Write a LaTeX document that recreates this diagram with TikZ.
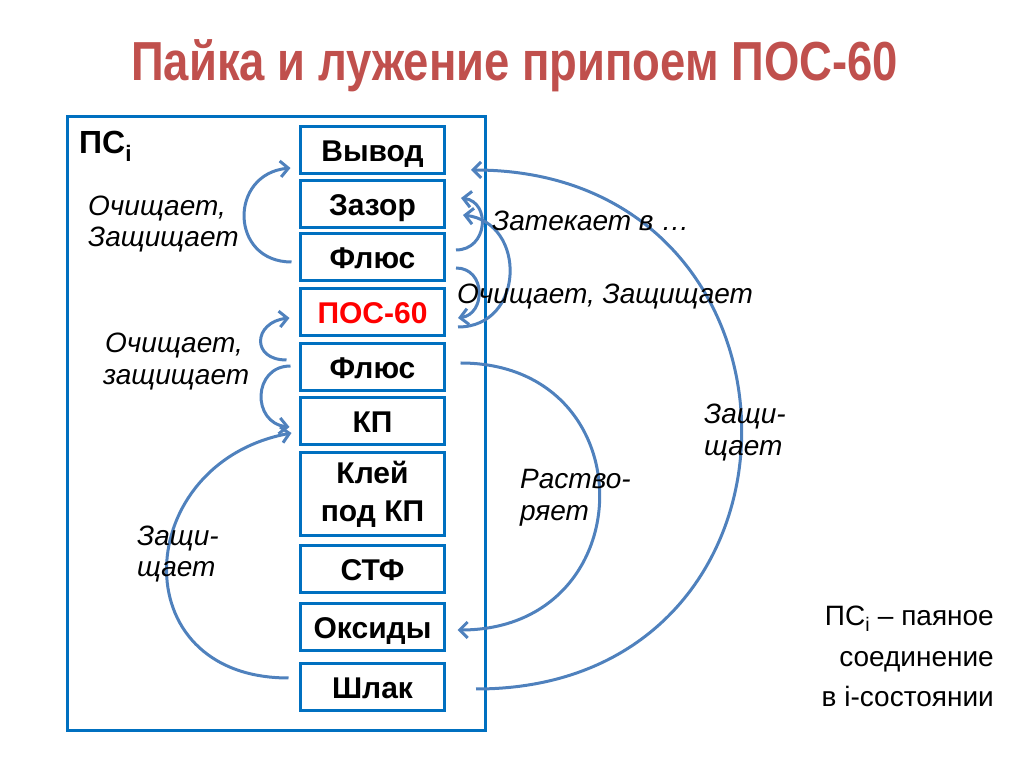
\documentclass[tikz,border=0pt]{standalone}
\usepackage{fontspec}
\setmainfont{Liberation Sans}
\usetikzlibrary{arrows.meta}
\definecolor{boxblue}{RGB}{0,112,192}
\definecolor{arrblue}{RGB}{79,129,189}
\definecolor{titlered}{RGB}{192,80,77}
\begin{document}
\begin{tikzpicture}[x=1pt,y=1pt,
  box/.style={draw=boxblue, line width=3pt, minimum width=144pt, minimum height=47pt, inner sep=0pt,
    font=\fontsize{30}{38}\selectfont\bfseries, text height=23pt, text depth=0pt},
  conn/.style={draw=arrblue, line width=3pt, -{Straight Barb[length=8pt,width=16pt]}},
  lbl/.style={font=\fontsize{28}{32}\selectfont\itshape, inner sep=0pt, anchor=base west},
  note/.style={font=\fontsize{28}{34}\selectfont, inner sep=0pt, anchor=base east},
]
\useasboundingbox (0,0) rectangle (1024,767);
\node[anchor=base west, inner sep=0pt, text=titlered, font=\fontsize{55}{60}\selectfont\bfseries] (title) at (131,686) {\scalebox{0.826}[1]{Пайка и лужение припоем ПОС-60}};
\node[draw=boxblue, line width=3pt, minimum width=418pt, minimum height=614pt, inner sep=0pt] (frame) at (276.5,343.5) {};
\node[anchor=base west, inner sep=0pt, font=\fontsize{32}{38}\selectfont\bfseries] (ps) at (79,613) {ПС\textsubscript{i}};

\node[box] (vyvod) at (372.5,617) {Вывод};
\node[box] (zazor) at (372.5,562.5) {Зазор};
\node[box] (flux1) at (372.5,509.5) {Флюс};
\node[box, text=red] (pos) at (372.5,455) {ПОС-60};
\node[box] (flux2) at (372.5,400) {Флюс};
\node[box] (kp) at (372.5,346) {КП};
\node[box, minimum height=83pt, text height=, text depth=, align=center] (klei) at (372.5,273) {Клей\\под КП};
\node[box] (stf) at (372.5,197.5) {СТФ};
\node[box] (oks) at (372.5,139.5) {Оксиды};
\node[box] (slak) at (372.5,79.5) {Шлак};

% left connectors
\draw[conn] ([xshift=-7.5pt,yshift=-4.5pt]flux1.west) .. controls +(-62,0) and +(-62,-6) .. ([xshift=-8.5pt,yshift=-18pt]vyvod.west);
\draw[conn] ([xshift=-12.5pt,yshift=7pt]flux2.west) .. controls +(-36,0) and +(-36,-4) .. ([xshift=-9.5pt,yshift=-6pt]pos.west);
\draw[conn] ([xshift=-8.5pt,yshift=1pt]flux2.west) .. controls +(-38,0) and +(-38,4) .. ([xshift=-9.5pt,yshift=-6pt]kp.west);
\draw[conn] ([xshift=-10.5pt,yshift=9.5pt]slak.west) .. controls +(-168,0) and +(-160,-30) .. ([xshift=-7.5pt,yshift=-12pt]kp.west);

% right connectors
\draw[conn] ([xshift=10pt,yshift=7.5pt]flux1.east) .. controls +(32,0) and +(30,-4) .. ([xshift=15pt,yshift=6.5pt]zazor.east);
\draw[conn] ([xshift=10pt,yshift=-10.5pt]flux1.east) .. controls +(30,0) and +(28,4) .. ([xshift=12pt,yshift=-6pt]pos.east);
\draw[conn] ([xshift=12pt,yshift=-15pt]pos.east) .. controls +(67,0) and +(64,-8) .. ([xshift=17pt,yshift=-10.5pt]zazor.east);
\draw[conn] ([xshift=30pt,yshift=-1.5pt]slak.east) .. controls +(357,0) and +(357,0) .. ([xshift=25pt,yshift=-20pt]vyvod.east);
\draw[conn] ([xshift=14.5pt,yshift=4pt]flux2.east) .. controls +(187,0) and +(187,0) .. ([xshift=11.5pt,yshift=-2.5pt]oks.east);

% labels
\node[lbl] (l1a) at (88,551) {Очищает,};
\node[lbl] (l1b) at (88,520) {Защищает};
\node[lbl] (l2a) at (105,414) {Очищает,};
\node[lbl] (l2b) at (103,382) {защищает};
\node[lbl] (l3a) at (137,221) {Защи-};
\node[lbl] (l3b) at (137,190) {щает};
\node[lbl] (r1) at (492,536) {Затекает в …};
\node[lbl] (r2) at (457,463) {Очищает, Защищает};
\node[lbl] (r3a) at (520,278) {Раство-};
\node[lbl] (r3b) at (520,246) {ряет};
\node[lbl] (r4a) at (704,343) {Защи-};
\node[lbl] (r4b) at (704,311) {щает};

\node[note] (n1) at (994,141) {ПС\textsubscript{i} – паяное};
\node[note] (n2) at (994,100) {соединение};
\node[note] (n3) at (994,60) {в i-состоянии};
\end{tikzpicture}
\end{document}
